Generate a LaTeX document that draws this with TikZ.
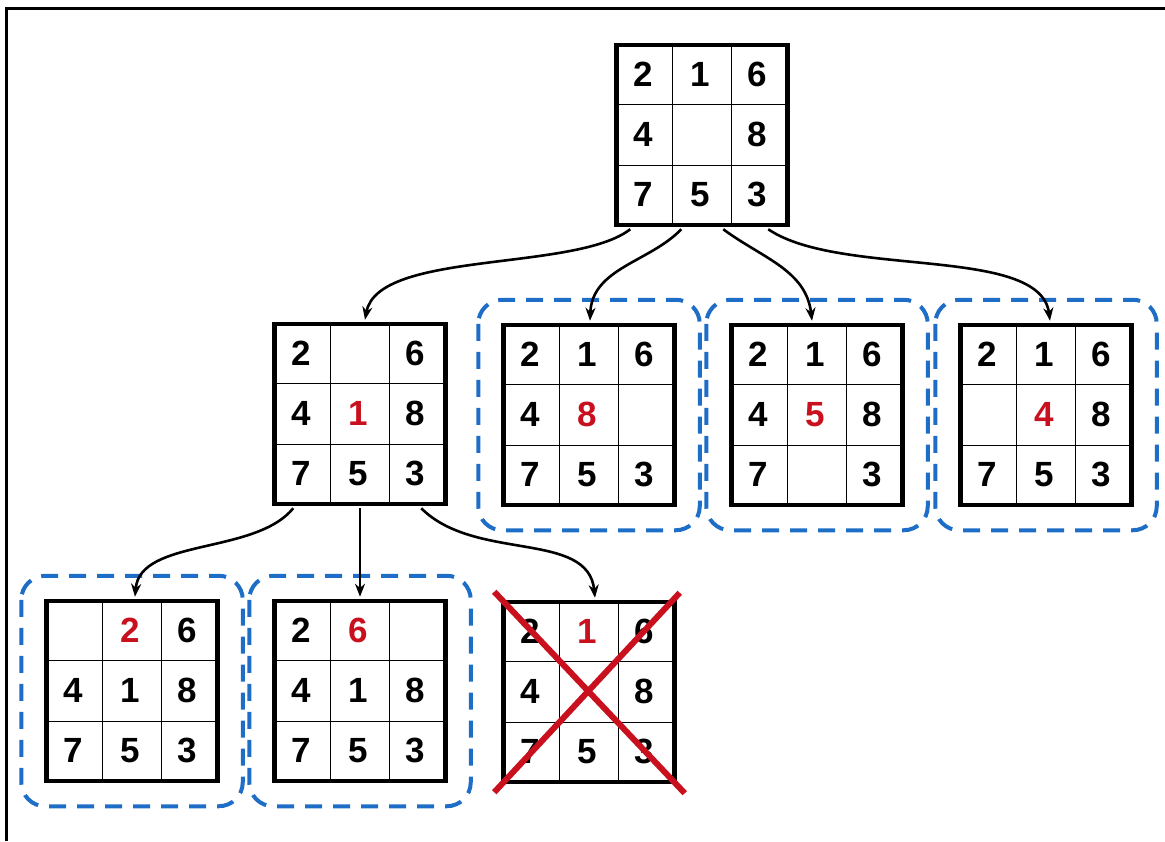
\documentclass[tikz,border=0pt]{standalone}
\usepackage{fontspec}
\setmainfont{Liberation Sans}
\usetikzlibrary{arrows.meta,calc}
\definecolor{pred}{RGB}{200,16,30}
\definecolor{pblue}{RGB}{30,110,200}
\tikzset{
  pbox/.style={draw, line width=4.5pt, minimum width=171pt, minimum height=180pt, inner sep=0pt},
  cellline/.style={line width=1.4pt},
  digit/.style={font=\fontsize{35}{35}\selectfont\bfseries, inner sep=0pt},
  group/.style={draw=pblue, line width=4pt, dash pattern=on 17pt off 11pt, rounded corners=24pt},
  link/.style={line width=2.6pt, -{Stealth[length=13pt,width=10pt]}},
  cross/.style={draw=pred, line width=6pt},
  frame/.style={line width=3pt},
}
\newcommand\mypuzzle[4]{%
  \node[pbox] (#1) at (#2,#3) {};
  \draw[cellline] ($(#1.north west)!1/3!(#1.north east)$) -- ($(#1.south west)!1/3!(#1.south east)$);
  \draw[cellline] ($(#1.north west)!2/3!(#1.north east)$) -- ($(#1.south west)!2/3!(#1.south east)$);
  \draw[cellline] ($(#1.north west)!1/3!(#1.south west)$) -- ($(#1.north east)!1/3!(#1.south east)$);
  \draw[cellline] ($(#1.north west)!2/3!(#1.south west)$) -- ($(#1.north east)!2/3!(#1.south east)$);
  \foreach \v [count=\i from 0] in {#4} {
    \pgfmathtruncatemacro\mycc{mod(\i,3)}
    \pgfmathtruncatemacro\myrr{div(\i,3)}
    \node[digit] (#1-\i) at ($(#1.north west)+(28.5+57*\mycc,32+60*\myrr)$) {\v};
  }
}
\begin{document}
\begin{tikzpicture}[x=1pt,y=-1pt]
\useasboundingbox (0,0) rectangle (1165,841);
\coordinate (fa) at (6,841);
\coordinate (fb) at (6,8);
\coordinate (fc) at (1165,8);
\draw[frame] (fa) -- (fb) -- (fc);

\mypuzzle{top}{702}{135}{2,1,6,4,{},8,7,5,3}
\mypuzzle{l1}{360}{414}{2,{},6,4,{\color{pred}1},8,7,5,3}
\mypuzzle{l2}{589}{415}{2,1,6,4,{\color{pred}8},{},7,5,3}
\mypuzzle{l3}{817}{415}{2,1,6,4,{\color{pred}5},8,7,{},3}
\mypuzzle{l4}{1046}{415}{2,1,6,{},{\color{pred}4},8,7,5,3}
\mypuzzle{b1}{132}{691}{{},{\color{pred}2},6,4,1,8,7,5,3}
\mypuzzle{b2}{360}{691}{2,{\color{pred}6},{},4,1,8,7,5,3}
\mypuzzle{b3}{589}{692}{2,{\color{pred}1},6,4,{},8,7,5,3}

\foreach \g in {l2,l3,l4,b1,b2} {
  \draw[group] ($(\g.north west)+(-23,-23)$) rectangle ($(\g.south east)+(23,23)$);
}

\draw[cross] ($(b3.north west)+(-7,-8)$) -- ($(b3.south east)+(8,9)$);
\draw[cross] ($(b3.north east)+(3,-7)$) -- ($(b3.south west)+(-7,8)$);

\draw[link] ($(top.south west)+(16,2)$) .. controls (575,272) and (378,250) .. ($(l1.north)+(5,-2)$);
\draw[link] ($(top.south west)+(67,2)$) .. controls (650,262) and (592,268) .. ($(l2.north)+(1,-2)$);
\draw[link] ($(top.south west)+(109,2)$) .. controls (762,258) and (806,270) .. ($(l3.north)+(-5,-2)$);
\draw[link] ($(top.south west)+(154,2)$) .. controls (840,278) and (1040,245) .. ($(l4.north)+(4,-2)$);

\draw[link] ($(l1.south west)+(21,2)$) .. controls (255,555) and (140,538) .. ($(b1.north)+(3,-2)$);
\draw[link] ($(l1.south)+(0,2)$) -- ($(b2.north)+(0,-2)$);
\draw[link] ($(l1.south west)+(149,2)$) .. controls (475,562) and (588,530) .. ($(b3.north)+(6,-2)$);
\end{tikzpicture}
\end{document}
